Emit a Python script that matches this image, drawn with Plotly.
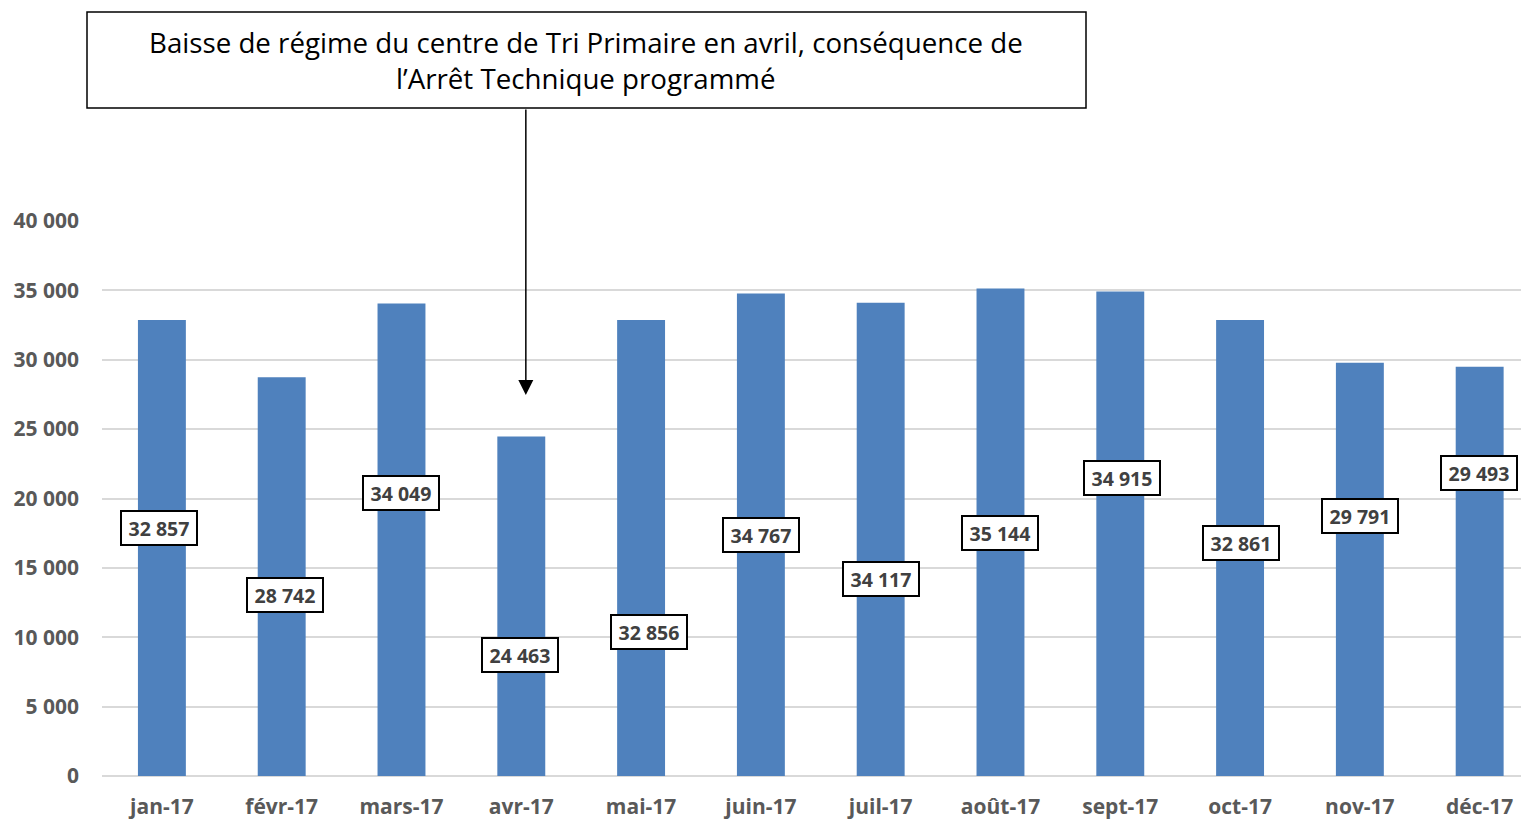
import plotly.graph_objects as go

months = ["jan-17", "févr-17", "mars-17", "avr-17", "mai-17", "juin-17",
          "juil-17", "août-17", "sept-17", "oct-17", "nov-17", "déc-17"]
values = [32857, 28742, 34049, 24463, 32856, 34767,
          34117, 35144, 34915, 32861, 29791, 29493]
value_labels = ["32 857", "28 742", "34 049", "24 463", "32 856", "34 767",
                "34 117", "35 144", "34 915", "32 861", "29 791", "29 493"]
y_tick_vals = [0, 5000, 10000, 15000, 20000, 25000, 30000, 35000, 40000]
y_tick_text = ["0", "5 000", "10 000", "15 000", "20 000", "25 000",
               "30 000", "35 000", "40 000"]
note_line1 = "Baisse de régime du centre de Tri Primaire en avril, conséquence de"
note_line2 = "l’Arrêt Technique programmé"

# layout: where each data-label box sits (axis units) and its pixel nudge
label_pos_y = [17874, 13045, 20396, 8721, 10378, 17369,
               14198, 17514, 21477, 16793, 18739, 21838]
label_shift_x = [-3, 3, 0, -1, 8, 0, 0, 0, 2, 1, 0, -1]

BAR = "#4F81BD"
GRID = "#D9D9D9"
TICK = "#595959"
FONT = "Open Sans"

fig = go.Figure()
fig.add_trace(go.Bar(x=list(range(len(months))), y=values, marker_color=BAR,
                     marker_line_width=0, hoverinfo="skip"))

for i, (lab, ly, dx) in enumerate(zip(value_labels, label_pos_y, label_shift_x)):
    fig.add_annotation(x=i, y=ly, xref="x", yref="y", text=f"<b>{lab}</b>",
                       showarrow=False, xshift=dx,
                       font=dict(family=FONT, size=19.5, color="#404040"),
                       bgcolor="white", bordercolor="black", borderwidth=2,
                       borderpad=1, width=72, height=30)

# note box (paper coords relative to plot area)
fig.add_shape(type="rect", xref="paper", yref="paper",
              x0=(87 - 102) / 1419, x1=(1086 - 102) / 1419,
              y0=(776 - 108) / 555, y1=(776 - 12) / 555,
              line=dict(color="black", width=1.5), fillcolor="white", layer="above")
for line_text, py in ((note_line1, 42), (note_line2, 78)):
    fig.add_annotation(xref="paper", yref="paper", x=(586 - 102) / 1419,
                       y=(776 - py) / 555, xanchor="center", yanchor="middle",
                       text=line_text, showarrow=False,
                       font=dict(family=FONT, size=27.7, color="black"))
# arrow
fig.add_annotation(x=3.038, y=27459, xref="x", yref="y", text="",
                   showarrow=True, arrowhead=2, arrowsize=2, arrowwidth=1.5,
                   arrowcolor="black", ax=0, ay=-287, standoff=0)

fig.update_layout(
    width=1521, height=819,
    margin=dict(l=102, r=0, t=221, b=43),
    plot_bgcolor="white", paper_bgcolor="white",
    bargap=0.6, showlegend=False,
    xaxis=dict(range=[-0.5, 11.345], tickmode="array",
               tickvals=list(range(len(months))), ticktext=months,
               showgrid=False, zeroline=False, showline=False, ticks="",
               ticklabelstandoff=16,
               tickfont=dict(family=FONT, size=21, color=TICK, weight="bold"),
               fixedrange=True),
    yaxis=dict(range=[0, 40000], tickmode="array", tickvals=y_tick_vals,
               ticktext=y_tick_text, showgrid=True, gridcolor=GRID, gridwidth=1.5,
               zeroline=True, zerolinecolor=GRID, zerolinewidth=1.5,
               showline=False, ticks="", ticklabelstandoff=22,
               tickfont=dict(family=FONT, size=21, color=TICK, weight="bold"),
               fixedrange=True),
)

fig.write_html("out.html", config={"displayModeBar": False},
               post_script="document.body.style.margin='0';document.body.style.overflow='hidden';")
